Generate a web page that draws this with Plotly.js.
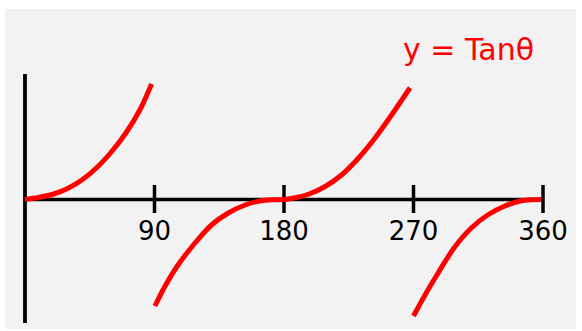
<!DOCTYPE html>
<html>
<head>
<meta charset="utf-8">
<script src="https://cdn.plot.ly/plotly-3.0.1.min.js"></script>
<style>
html,body{margin:0;padding:0;background:#ffffff;}
#chart{width:582px;height:331px;}
</style>
</head>
<body>
<div id="chart"></div>
<script>
// Data (angle in degrees, drawn curve value)
var branch1Theta = [0, 10, 20, 30, 40, 50, 60, 70, 80, 88];
var branch1Y     = [0, 0.09, 0.22, 0.45, 0.80, 1.28, 1.90, 2.65, 3.60, 4.62];

var branch2Theta = [90.3, 97, 106, 118, 130, 141, 153, 164, 172, 180, 188, 197, 208, 220, 232, 243, 255, 267.6];
var branch2Y     = [-4.26, -3.50, -2.65, -1.75, -1.00, -0.55, -0.22, -0.05, -0.01, 0, 0.07, 0.21, 0.50, 0.98, 1.67, 2.44, 3.40, 4.47];

var branch3Theta = [270, 278, 287, 298, 310, 321.5, 333.5, 345, 352, 359];
var branch3Y     = [-4.66, -3.82, -2.95, -1.95, -1.15, -0.62, -0.26, -0.05, -0.01, 0];

var tickVals   = [90, 180, 270, 360];
var tickLabels = ['90', '180', '270', '360'];
var titleText  = 'y = Tanθ';

var axisXMin = 0, axisXMax = 360;
var axisYMin = -4.94, axisYMax = 5.02;
var tickHalfUp = 0.58, tickHalfDown = -0.54;
var labelY = -1.34;

var red = '#ff0000';
function branch(x, y) {
  return {x: x, y: y, type: 'scatter', mode: 'lines',
          line: {color: red, width: 5, shape: 'spline', smoothing: 0.8},
          hoverinfo: 'skip', showlegend: false};
}

var traces = [
  branch(branch1Theta, branch1Y),
  branch(branch2Theta, branch2Y),
  branch(branch3Theta, branch3Y),
  {x: tickVals, y: tickVals.map(function(){return labelY;}), text: tickLabels,
   type: 'scatter', mode: 'text', textposition: 'middle center',
   textfont: {family: 'DejaVu Sans', size: 26, color: '#000000'},
   hoverinfo: 'skip', showlegend: false}
];

var shapes = [
  {type: 'rect', xref: 'paper', yref: 'paper', x0: 5/582, x1: 576/582, y0: 1 - 329/331, y1: 1 - 9/331,
   fillcolor: '#f2f2f2', line: {width: 0}, layer: 'below'},
  {type: 'line', xref: 'x', yref: 'y', x0: axisXMin, x1: axisXMax, y0: 0, y1: 0,
   line: {color: '#000000', width: 3.5}, layer: 'below'},
  {type: 'line', xref: 'x', yref: 'y', x0: axisXMin, x1: axisXMin, y0: axisYMin, y1: axisYMax,
   line: {color: '#000000', width: 3.8}, layer: 'below'}
];
tickVals.forEach(function(v){
  shapes.push({type: 'line', xref: 'x', yref: 'y', x0: v, x1: v, y0: tickHalfDown, y1: tickHalfUp,
               line: {color: '#000000', width: 3.5}, layer: 'below'});
});

var layout = {
  width: 582, height: 331,
  margin: {l: 0, r: 0, t: 0, b: 0, pad: 0},
  paper_bgcolor: '#ffffff', plot_bgcolor: 'rgba(0,0,0,0)',
  xaxis: {range: [-17.37, 387.1], visible: false, fixedrange: true},
  yaxis: {range: [-5.26, 7.98], visible: false, fixedrange: true},
  shapes: shapes,
  annotations: [{text: titleText, xref: 'paper', yref: 'paper', x: 468.5/582, y: 1 - 50/331,
                 xanchor: 'center', yanchor: 'middle', showarrow: false,
                 font: {family: 'DejaVu Sans', size: 30, color: red}}],
  showlegend: false
};

Plotly.newPlot('chart', traces, layout, {staticPlot: true, displayModeBar: false});
</script>
</body>
</html>
